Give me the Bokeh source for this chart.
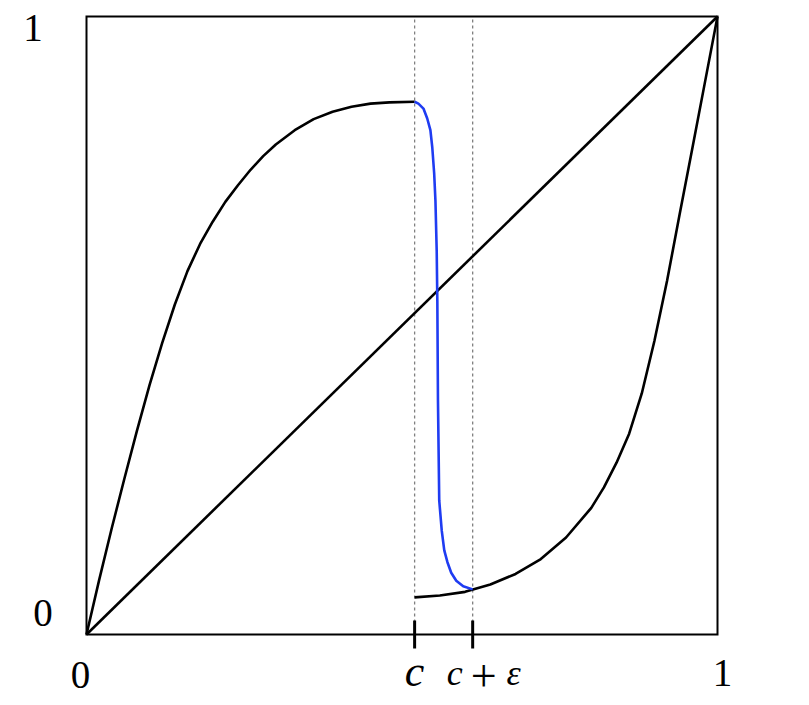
import math
from bokeh.plotting import figure
from bokeh.models import Range1d
from bokeh.core.properties import value
from bokeh.embed import file_html
from bokeh.resources import INLINE

# ---- data ----
c = 0.52
c_eps = 0.612
tick_positions = [c, c_eps]

upper_x = [0, 0.02, 0.04, 0.06, 0.08, 0.10, 0.12, 0.14, 0.16, 0.18, 0.20, 0.22,
           0.24, 0.26, 0.28, 0.30, 0.33, 0.36, 0.39, 0.42, 0.45, 0.48, 0.52]
upper_y = [0, 0.088, 0.172, 0.252, 0.330, 0.404, 0.472, 0.534, 0.588, 0.632, 0.668, 0.700,
           0.727, 0.752, 0.774, 0.793, 0.816, 0.834, 0.846, 0.854, 0.859, 0.861, 0.862]

blue_x = [0.520, 0.526, 0.534, 0.540, 0.545, 0.548, 0.551, 0.553, 0.555, 0.556, 0.557,
          0.558, 0.559, 0.563, 0.567, 0.572, 0.578, 0.586, 0.597, 0.612]
blue_y = [0.862, 0.859, 0.851, 0.835, 0.816, 0.788, 0.746, 0.702, 0.621, 0.540, 0.379,
          0.298, 0.217, 0.168, 0.136, 0.117, 0.100, 0.087, 0.078, 0.073]

lower_x = [0.52, 0.56, 0.60, 0.64, 0.68, 0.72, 0.76, 0.80, 0.82, 0.84, 0.86, 0.88,
           0.90, 0.92, 0.94, 0.96, 0.98, 1.0]
lower_y = [0.060, 0.063, 0.069, 0.081, 0.098, 0.122, 0.157, 0.205, 0.238, 0.278, 0.325, 0.390,
           0.475, 0.572, 0.680, 0.786, 0.893, 1.0]

diag_x = [0, 1]
diag_y = [0, 1]

# ---- layout: the unit box sits at pixels 86..717 (x) and 16..634 (y) ----
W, H = 800, 700
BOX_L, BOX_W = 86, 631
BOX_T, BOX_H = 16, 618
BOX_B = BOX_T + BOX_H

p = figure(width=W, height=H,
           x_range=Range1d(-BOX_L / BOX_W, (W - BOX_L) / BOX_W),
           y_range=Range1d((BOX_B - H) / BOX_H, BOX_B / BOX_H),
           x_axis_type=None, y_axis_type=None,
           output_backend="svg", toolbar_location=None, min_border=0)
p.outline_line_color = None
p.background_fill_color = "white"
p.border_fill_color = "white"

# dashed guide lines at c and c+eps
p.segment(x0=tick_positions, y0=[0, 0], x1=tick_positions, y1=[1, 1],
          line_color="#808080", line_width=1.3, line_dash="3 3")

# unit box
p.quad(left=[0], right=[1], bottom=[0], top=[1], fill_color=None,
       line_color="black", line_width=2, line_join="miter")

LW = 2.6
p.line(diag_x, diag_y, line_color="black", line_width=LW)
p.line(upper_x, upper_y, line_color="black", line_width=LW)
p.line(lower_x, lower_y, line_color="black", line_width=LW)
p.line(blue_x, blue_y, line_color="#1f3cf2", line_width=LW)

# thick ticks at c and c+eps
p.scatter(x=tick_positions, y=[0, 0], marker="dash", size=28, angle=math.pi / 2,
          line_color="black", line_width=3)

serif = "Liberation Serif"

def lab(x, y, text, dx, dy, size, style="normal"):
    p.text(x=[x], y=[y], text=[text], x_offset=dx, y_offset=dy,
           text_align="center", text_baseline="alphabetic",
           text_font=value(serif), text_font_size=size, text_font_style=style,
           text_color="black")

lab(0, 1, "1", -53.5, 11, "39px")
lab(0, 0, "0", -43.5, -22, "39px")
lab(0, 0, "0", -6, 40, "39px")
lab(1, 0, "1", 5, 38, "39px")
lab(c, 0, "c", 0, 37, "44px", "italic")
lab(c_eps, 0, "c", -18, 38, "36px", "italic")
lab(c_eps, 0, "+", 11, 41, "46px")
lab(c_eps, 0, "ε", 41, 38, "36px", "italic")

open("out.html", "w").write(file_html(p, INLINE))
